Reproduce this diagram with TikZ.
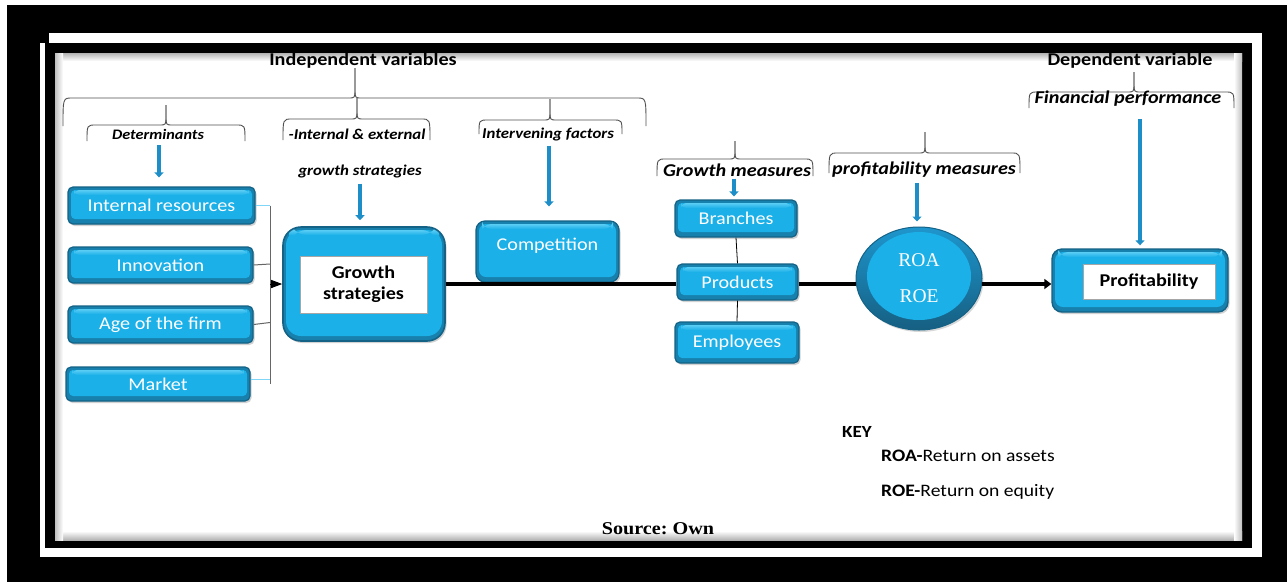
\documentclass[tikz,border=0pt]{standalone}
\usepackage{fontspec}
\setmainfont{Carlito}[FakeStretch=1.12]
\newfontfamily\timesf{Liberation Serif}[FakeStretch=1.12]
\newfontfamily\timesplain{Liberation Serif}
\usetikzlibrary{arrows.meta,shapes.geometric,shadows}
\definecolor{boxblue}{RGB}{28,176,232}
\definecolor{boxlight}{RGB}{90,205,245}
\definecolor{boxdark}{RGB}{20,98,134}
\definecolor{boxbevel}{RGB}{24,128,172}
\definecolor{arrblue}{RGB}{30,142,200}
\definecolor{bracegray}{RGB}{80,80,80}
\newcommand{\mybrace}[6]{% x1 x2 xm yh yb yt
  \draw[bracestyle] (#1,#5) .. controls (#1,#4) .. ({#1+9},#4) -- ({#3-7},#4)
    .. controls (#3,#4) .. (#3,{#4-9}) -- (#3,#6);
  \draw[bracestyle] (#3,#6) -- (#3,{#4-9}) .. controls (#3,#4) .. ({#3+7},#4)
    -- ({#2-9},#4) .. controls (#2,#4) .. (#2,#5);}
\tikzset{
  fs/.style={font=\fontsize{#1}{#1}\selectfont},
  hd/.style={font=\bfseries\fontsize{18}{20}\selectfont, inner sep=0pt},
  sub/.style={font=\bfseries\itshape\fontsize{#1}{#1}\selectfont, inner sep=0pt},
  bracestyle/.style={draw=bracegray, line width=0.9pt},
  barrow/.style={draw=arrblue, line width=3.5pt, -{Triangle[width=9pt,length=5pt]}},
  bevel/.style={path picture={
      \fill[boxblue, rounded corners=#1]
      ([xshift=3pt,yshift=-3pt]path picture bounding box.north west) rectangle
      ([xshift=-3pt,yshift=5pt]path picture bounding box.south east);
      \shade[top color=boxlight, bottom color=boxblue]
      ([xshift=6pt,yshift=-3pt]path picture bounding box.north west) rectangle
      ([xshift=-6pt,yshift=-8pt]path picture bounding box.north east);}},
  bluebox/.style={rounded corners=5pt, draw=boxdark, line width=1.2pt, fill=boxbevel,
    text=white, inner sep=0pt, fs=18,
    drop shadow={opacity=0.35, shadow xshift=1.5pt, shadow yshift=-2pt},
    bevel=4pt},
  whitebox/.style={draw=gray!70, line width=1pt, fill=white, inner sep=0pt,
    font=\bfseries\fontsize{18}{21}\selectfont, align=center},
  mainline/.style={line width=3.5pt, draw=black},
  busline/.style={line width=1pt, draw=gray!80!black},
  keytext/.style={font=\fontsize{17.5}{20}\selectfont, inner sep=0pt, anchor=west}
}
\begin{document}
\begin{tikzpicture}[x=1pt,y=-1pt]
\useasboundingbox (0,0) rectangle (1287,582);
% frame
\fill[white] (0,0) rectangle (1287,582);
\fill[black] (7,5) rectangle (1287,582);
\fill[white] (40,33) rectangle (1262,557);
\fill[black] (45,43) rectangle (1252,548);
\fill[black] (40,33) rectangle (49,43);
\fill[white] (55,53) rectangle (1242,540);
\shade[top color=gray!60, bottom color=white] (55,53) rectangle (1242,61);
\shade[top color=white, bottom color=gray!60] (55,531) rectangle (1242,540);
\shade[left color=gray!50, right color=white] (55,53) rectangle (63,540);
\shade[left color=white, right color=gray!50] (1234,53) rectangle (1242,540);

% headings and braces
\node[hd] (indep) at (363,61) {Independent variables};
\node[hd] (dep) at (1130,61) {Dependent variable};
\mybrace{63}{646}{355}{98}{126}{68}
\mybrace{87}{245}{166}{125}{141}{105}
\mybrace{283}{430}{357}{119}{140}{98}
\mybrace{479}{622}{550}{120}{134}{99}
\mybrace{657}{813}{735}{159}{176}{141}
\mybrace{829}{1020}{925}{153}{173}{132}
\mybrace{1029}{1234}{1134}{92}{108}{72}

\node[sub=14.5] (det) at (158,134) {Determinants};
\node[sub=15] (ie) at (357,134) {-Internal \& external};
\node[sub=15] (gstext) at (360,171) {growth strategies};
\node[sub=15] (interv) at (548,134) {Intervening factors};
\node[sub=18] (gmeas) at (737,170) {Growth measures};
\node[sub=18] (pmeas) at (924,170) {profitability measures};
\node[sub=18] (finp) at (1128,99) {Financial performance};

% left boxes
\node[bluebox, minimum width=187, minimum height=37] (ir) at (161.5,205.5) {Internal resources};
\node[bluebox, minimum width=185, minimum height=36] (inn) at (160.5,265) {Innovation};
\node[bluebox, minimum width=185, minimum height=37] (age) at (160.5,324.5) {Age of the firm};
\node[bluebox, minimum width=184, minimum height=34] (mkt) at (158,384) {Market};

% growth strategies
\node[bluebox, rounded corners=18pt, line width=1.6pt, minimum width=162, minimum height=114,
  bevel=15pt] (gs) at (364,284) {};
\node[whitebox, minimum width=127, minimum height=57] (gsin) at (363.5,284.5) {Growth\\strategies};

% competition
\node[bluebox, rounded corners=9pt, minimum width=143, minimum height=61, bevel=7pt] (comp) at (547.5,251.5) {};
\node[fs=18, text=white, inner sep=0pt] (comptxt) at (547.5,246) {Competition};

% growth measures
\node[bluebox, minimum width=122, minimum height=37] (br) at (736,218.5) {Branches};
\node[bluebox, minimum width=121, minimum height=36] (prod) at (737.5,282) {Products};
\node[bluebox, minimum width=124, minimum height=41] (emp) at (737,342.5) {Employees};

% ROA ellipse
\node[ellipse, draw=boxdark, line width=1pt, top color={rgb,255:red,30;green,150;blue,205},
  bottom color={rgb,255:red,22;green,95;blue,130},
  minimum width=126, minimum height=103, inner sep=0pt, text=white, align=center,
  font=\timesplain\fontsize{19.5}{36}\selectfont,
  drop shadow={opacity=0.3, shadow xshift=1.5pt, shadow yshift=-2pt},
  path picture={\fill[boxblue] ([yshift=2.5pt]path picture bounding box.center)
     ellipse [x radius=52pt, y radius=44pt];}] (roa) at (919,278.5) {ROA\\ROE};

% profitability
\node[bluebox, rounded corners=10pt, line width=1.4pt, minimum width=176, minimum height=63,
  bevel=8pt] (prof) at (1140,280.5) {};
\node[whitebox, minimum width=132, minimum height=35] (profin) at (1149,281.5) {Profitability};

% bus on the left
\coordinate (bus) at (270,0);
\draw[busline] (ir.east -| bus) -- (mkt.east -| bus);
\draw[line width=1pt, draw=cyan!50] (ir.east) -- (ir.east -| bus);
\draw[busline] (inn.east) -- ([yshift=1pt]inn.east -| bus);
\draw[busline] (age.east) -- ([yshift=2pt]age.east -| bus);
\draw[line width=1pt, draw=cyan!50] ([yshift=5pt]mkt.east) -- ([yshift=5pt]mkt.east -| bus);
\draw[line width=1pt, -{Triangle[width=8pt,length=11pt]}] (gs.west -| bus) -- (gs.west);

% main line
\draw[mainline] (gs.east) -- (gs.east -| prod.west);
\draw[mainline] (prod.east |- gs.east) -- (roa.west |- gs.east);
\draw[mainline, -{Triangle[width=10pt,length=7pt]}] ([xshift=-1pt]roa.east |- gs.east) -- (prof.west |- gs.east);

% thin links
\draw[line width=0.8pt] (br.south) -- (prod.north);
\draw[line width=0.8pt] (prod.south) -- (emp.north);

% blue arrows
\draw[barrow, shorten <=6pt, shorten >=9pt] ([xshift=1pt]det.south) -- ([xshift=1pt]det.south |- ir.north);
\draw[barrow, shorten <=6pt, shorten >=6pt] (gstext.south) -- (gstext.south |- gs.north);
\draw[barrow, shorten <=5pt, shorten >=14pt] ([xshift=1pt]interv.south) -- ([xshift=1pt]interv.south |- comp.north);
\draw[barrow, shorten <=2pt, shorten >=3pt] ([xshift=-3pt]gmeas.south) -- ([xshift=-3pt]gmeas.south |- br.north);
\draw[barrow, shorten <=5pt, shorten >=5pt] ([xshift=-7pt]pmeas.south) -- ([xshift=-7pt]pmeas.south |- roa.north);
\draw[barrow, shorten <=12pt, shorten >=3pt] ([xshift=12pt]finp.south) -- ([xshift=12pt]finp.south |- prof.north);

% key
\node[font=\bfseries\fontsize{17}{20}\selectfont, inner sep=0pt, anchor=west] (key) at (842,432) {KEY};
\node[keytext] (k1) at (881,456) {\textbf{ROA-}Return on assets};
\node[keytext] (k2) at (881,492) {\textbf{ROE-}Return on equity};
\node[font=\timesf\bfseries\fontsize{18}{20}\selectfont, inner sep=0pt] (src) at (658,529) {Source:\ Own};
\end{tikzpicture}
\end{document}
